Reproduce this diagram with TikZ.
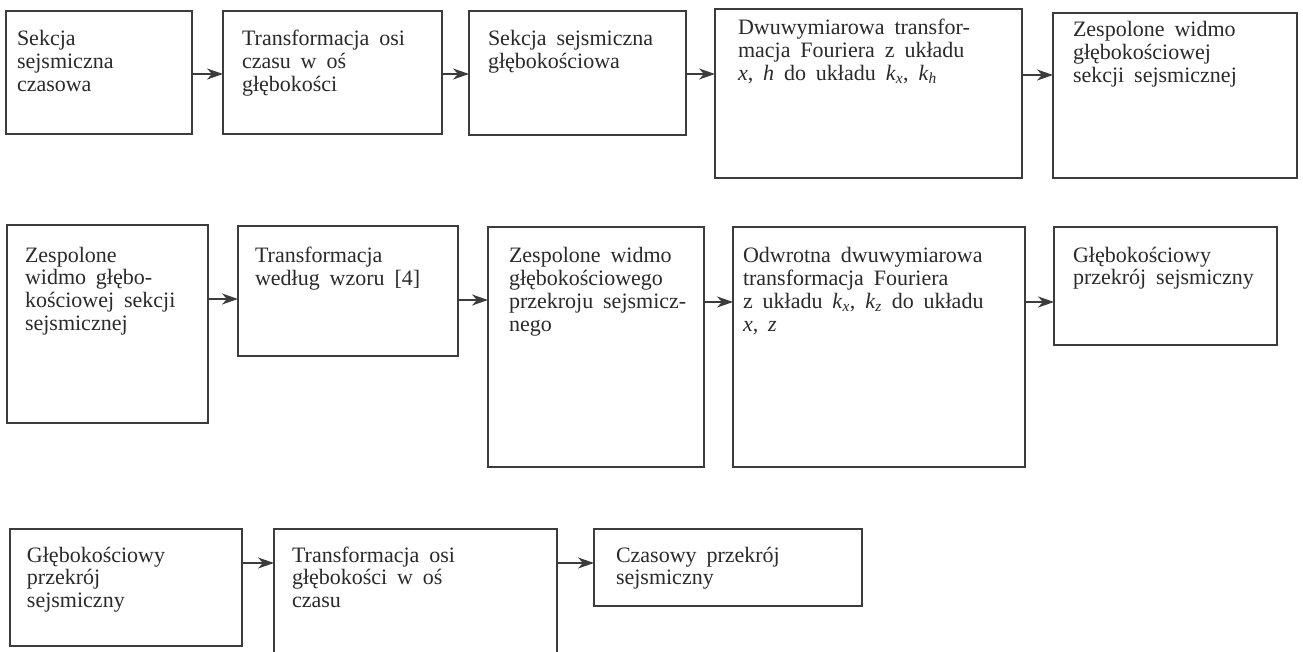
\documentclass[tikz,border=0pt]{standalone}
\usepackage{fontspec}
\setmainfont{Liberation Serif}
\usetikzlibrary{arrows.meta}
\definecolor{boxcol}{HTML}{3C3C3C}
\definecolor{txtcol}{HTML}{2A2A2A}
\newcommand{\myfont}{\fontsize{22}{22.7}\selectfont\spaceskip=0.45em plus 0.1em\relax}
\newcommand{\mkbox}[5]{\node[box,anchor=north west,minimum width={(#4)-(#2)},minimum height={(#5)-(#3)}] (#1) at (#2,#3) {};}
\newcommand{\ix}[1]{\textit{#1}}
\tikzset{
  box/.style={draw=boxcol, line width=2pt, inner sep=0pt, outer sep=0pt},
  lbl/.style={anchor=base west, inner sep=0pt, outer sep=0pt, align=left, text=txtcol, font=\myfont},
  arr/.style={draw=boxcol, line width=1.9pt, -{Stealth[length=16pt,width=11pt,inset=5pt]}}
}
\begin{document}
\begin{tikzpicture}[x=1pt,y=-1pt]
\useasboundingbox[fill=white] (0,0) rectangle (1303,652);
% row 1
\mkbox{A}{6}{11}{192}{134}
\mkbox{B}{223}{11}{442}{134}
\mkbox{C}{469}{11}{686}{135}
\mkbox{D}{715}{9}{1022}{178}
\mkbox{E}{1053}{13}{1297}{178}
% row 2
\mkbox{F}{7}{225}{208}{423}
\mkbox{G}{238}{226}{458}{356}
\mkbox{H}{488}{227}{704}{467}
\mkbox{I}{733}{227}{1025}{467}
\mkbox{J}{1054}{227}{1277}{345}
% row 3
\mkbox{K}{10}{529}{242}{646}
\mkbox{L}{274}{529}{557}{690}
\mkbox{M}{594}{529}{862}{606}
% texts (anchored at the baseline of the last line)
\node[lbl] (tA) at (17,91.4) {Sekcja\\sejsmiczna\\czasowa};
\node[lbl] (tB) at (242,91.4) {Transformacja osi\\czasu w oś\\głębokości};
\node[lbl] (tC) at (488,68.7) {Sekcja sejsmiczna\\głębokościowa};
\node[lbl] (tD) at (738,80.4) {Dwuwymiarowa transfor-\\macja Fouriera z układu\\\ix{x}, \ix{h} do układu \ix{k}\textsubscript{\ix{x}}, \ix{k}\textsubscript{\ix{h}}};
\node[lbl] (tE) at (1073,82.4) {Zespolone widmo\\głębokościowej\\sekcji sejsmicznej};
\node[lbl] (tF) at (25,330.1) {Zespolone\\widmo głębo-\\kościowej sekcji\\sejsmicznej};
\node[lbl] (tG) at (255,285.7) {Transformacja\\według wzoru [4]};
\node[lbl] (tH) at (509,331.1) {Zespolone widmo\\głębokościowego\\przekroju sejsmicz-\\nego};
\node[lbl] (tI) at (743,331.1) {Odwrotna dwuwymiarowa\\transformacja Fouriera\\z układu \ix{k}\textsubscript{\ix{x}}, \ix{k}\textsubscript{\ix{z}} do układu\\\ix{x}, \ix{z}};
\node[lbl] (tJ) at (1073,284.7) {Głębokościowy\\przekrój sejsmiczny};
\node[lbl] (tK) at (27,607.4) {Głębokościowy\\przekrój\\sejsmiczny};
\node[lbl] (tL) at (292,607.4) {Transformacja osi\\głębokości w oś\\czasu};
\node[lbl] (tM) at (616,584.7) {Czasowy przekrój\\sejsmiczny};
% arrows
\draw[arr] (A.east |- 0,74) -- (B.west |- 0,74);
\draw[arr] (B.east |- 0,74) -- (C.west |- 0,74);
\draw[arr] (C.east |- 0,74) -- (D.west |- 0,74);
\draw[arr] (D.east |- 0,75) -- (E.west |- 0,75);
\draw[arr] (F.east |- 0,299) -- (G.west |- 0,299);
\draw[arr] (G.east |- 0,300) -- (H.west |- 0,300);
\draw[arr] (H.east |- 0,302) -- (I.west |- 0,302);
\draw[arr] (I.east |- 0,302) -- (J.west |- 0,302);
\draw[arr] (K.east |- 0,563) -- (L.west |- 0,563);
\draw[arr] (L.east |- 0,563) -- (M.west |- 0,563);
\end{tikzpicture}
\end{document}
